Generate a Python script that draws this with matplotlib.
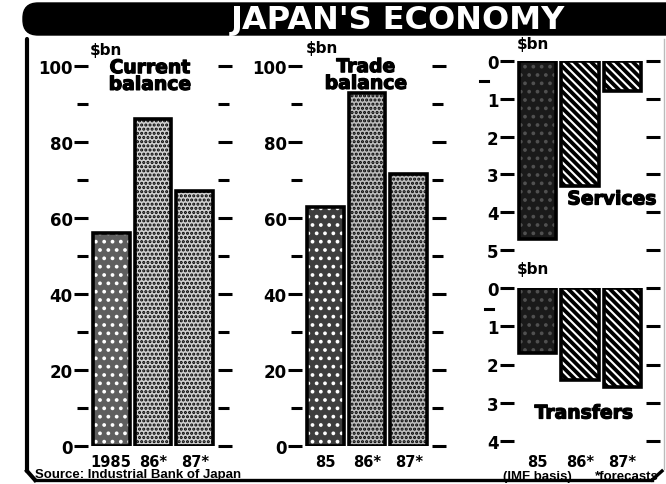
import matplotlib
matplotlib.use("Agg")
import matplotlib.pyplot as plt
from matplotlib.patches import FancyBboxPatch
import matplotlib.patheffects as pe

# ---- data ----
current_labels = ["1985", "86*", "87*"]
current_values = [56, 86, 67]
trade_labels = ["85", "86*", "87*"]
trade_values = [63, 93, 71.5]
services_values = [4.7, 3.3, 0.8]
transfers_values = [1.7, 2.4, 2.6]
small_labels = ["85", "86*", "87*"]

plt.rcParams["font.family"] = ["DejaVu Sans"]
plt.rcParams["font.weight"] = "bold"
plt.rcParams["hatch.linewidth"] = 1.5

W, H = 666, 485
fig = plt.figure(figsize=(W / 100, H / 100), dpi=100)
fig.patch.set_facecolor("white")

# background axes in pixel coordinates for decorations
bg = fig.add_axes([0, 0, 1, 1])
bg.set_xlim(0, W)
bg.set_ylim(H, 0)
bg.axis("off")

heavy = [pe.withStroke(linewidth=0.9, foreground="black")]

bg.add_patch(FancyBboxPatch((23, 4), 700, 32,
                            boxstyle="round,pad=0,rounding_size=15",
                            facecolor="black", edgecolor="black"))
bg.text(398, 21, "JAPAN'S ECONOMY", color="white", fontsize=23,
        fontweight="bold", ha="center", va="center")

# frame
bg.plot([27, 27], [40, 472], color="black", lw=3, solid_capstyle="round")
bg.plot([27, 35], [472, 481], color="black", lw=3)
bg.plot([35, 652], [481, 481], color="black", lw=2.4)
bg.plot([652, 662], [481, 472], color="black", lw=2.4)
bg.plot([664, 664], [40, 470], color="#bbbbbb", lw=1)


def px_axes(x0, yt, x1, yb):
    return fig.add_axes([x0 / W, 1 - yb / H, (x1 - x0) / W, (yb - yt) / H])


def styled(ax):
    ax.patch.set_alpha(0)
    for s in ax.spines.values():
        s.set_visible(False)
    ax.set_xticks([])
    ax.set_xlim(-0.55, 2.55)
    ax.tick_params(axis="y", which="major", left=True, right=True,
                   direction="out", length=10, width=2.2, pad=1,
                   labelsize=12, color="black")
    ax.tick_params(axis="y", which="minor", left=True, right=True,
                   direction="out", length=8, width=2.2, labelleft=False)
    for t in ax.get_yticklabels():
        t.set_fontweight("bold")


def draw_bar(ax, x, v, face, hatch, hatchcol, bottom=0):
    ax.bar(x, v, width=0.88, bottom=bottom, color=face, edgecolor=hatchcol,
           hatch=hatch, linewidth=0, zorder=2)
    ax.bar(x, v, width=0.88, bottom=bottom, fill=False, edgecolor="black",
           linewidth=2.6, zorder=3)


TITLE_FS = 13.5
XL_FS = 10.5

# ---- Panel 1: current balance ----
ax1 = px_axes(88, 67, 218, 447)
ax1.set_ylim(0, 100)
ax1.set_yticks([0, 20, 40, 60, 80, 100])
ax1.set_yticks([10, 30, 50, 70, 90], minor=True)
styled(ax1)
styles = [("#5e5e5e", "..", "white"), ("#d0d0d0", "....", "black"),
          ("#d0d0d0", "....", "black")]
for i, v in enumerate(current_values):
    draw_bar(ax1, i, v, *styles[i])
for i, lab in enumerate(current_labels):
    ax1.text(i, -2.2, lab, ha="center", va="top", fontsize=XL_FS,
             clip_on=False)
bg.text(90, 51, "$bn", fontsize=11, ha="left", va="center")
bg.text(150, 77, "Current\nbalance", fontsize=TITLE_FS, ha="center",
        va="center", linespacing=0.85, path_effects=heavy)
bg.text(35, 475, "Source: Industrial Bank of Japan", fontsize=9.5,
        ha="left", va="center", family=["Liberation Sans"])

# ---- Panel 2: trade balance ----
ax2 = px_axes(302, 67, 432, 447)
ax2.set_ylim(0, 100)
ax2.set_yticks([0, 20, 40, 60, 80, 100])
ax2.set_yticks([10, 30, 50, 70, 90], minor=True)
styled(ax2)
styles2 = [("#3e3e3e", "..", "white"), ("#bdbdbd", "....", "black"),
           ("#bdbdbd", "....", "black")]
for i, v in enumerate(trade_values):
    draw_bar(ax2, i, v, *styles2[i])
for i, lab in enumerate(trade_labels):
    ax2.text(i, -2.2, lab, ha="center", va="top", fontsize=XL_FS,
             clip_on=False)
bg.text(306, 49, "$bn", fontsize=11, ha="left", va="center")
bg.text(366, 76, "Trade\nbalance", fontsize=TITLE_FS, ha="center",
        va="center", linespacing=0.85, path_effects=heavy)

# ---- Panel 3a: services ----
ax3 = px_axes(514, 62, 646, 251)
ax3.set_ylim(5, 0)
ax3.set_yticks([0, 1, 2, 3, 4, 5])
styled(ax3)
styles3 = [("#1a1a1a", "..", "#505050"), ("black", "\\\\\\\\", "white"),
           ("black", "\\\\\\\\", "white")]
for i, v in enumerate(services_values):
    draw_bar(ax3, i, v, *styles3[i])
bg.text(517, 45, "$bn", fontsize=11, ha="left", va="center")
bg.plot([480, 488], [82, 82], color="black", lw=2.2)
bg.text(612, 200, "Services", fontsize=TITLE_FS, ha="center", va="center",
        path_effects=heavy)

# ---- Panel 3b: transfers ----
ax4 = px_axes(514, 289, 646, 442)
ax4.set_ylim(4, 0)
ax4.set_yticks([0, 1, 2, 3, 4])
styled(ax4)
for i, v in enumerate(transfers_values):
    draw_bar(ax4, i, v, *styles3[i])
for i, lab in enumerate(small_labels):
    ax4.text(i, 4.33, lab, ha="center", va="top", fontsize=XL_FS,
             clip_on=False)
bg.text(517, 270, "$bn", fontsize=11, ha="left", va="center")
bg.plot([485, 493], [310, 310], color="black", lw=2.2)
bg.text(584, 414, "Transfers", fontsize=TITLE_FS, ha="center", va="center",
        path_effects=heavy)
bg.text(537, 477, "(IMF basis)", fontsize=9.5, ha="center", va="center",
        family=["Liberation Sans"])
bg.text(627, 477, "*forecasts", fontsize=9.5, ha="center", va="center",
        family=["Liberation Sans"])

fig.savefig("out.png", dpi=100)
